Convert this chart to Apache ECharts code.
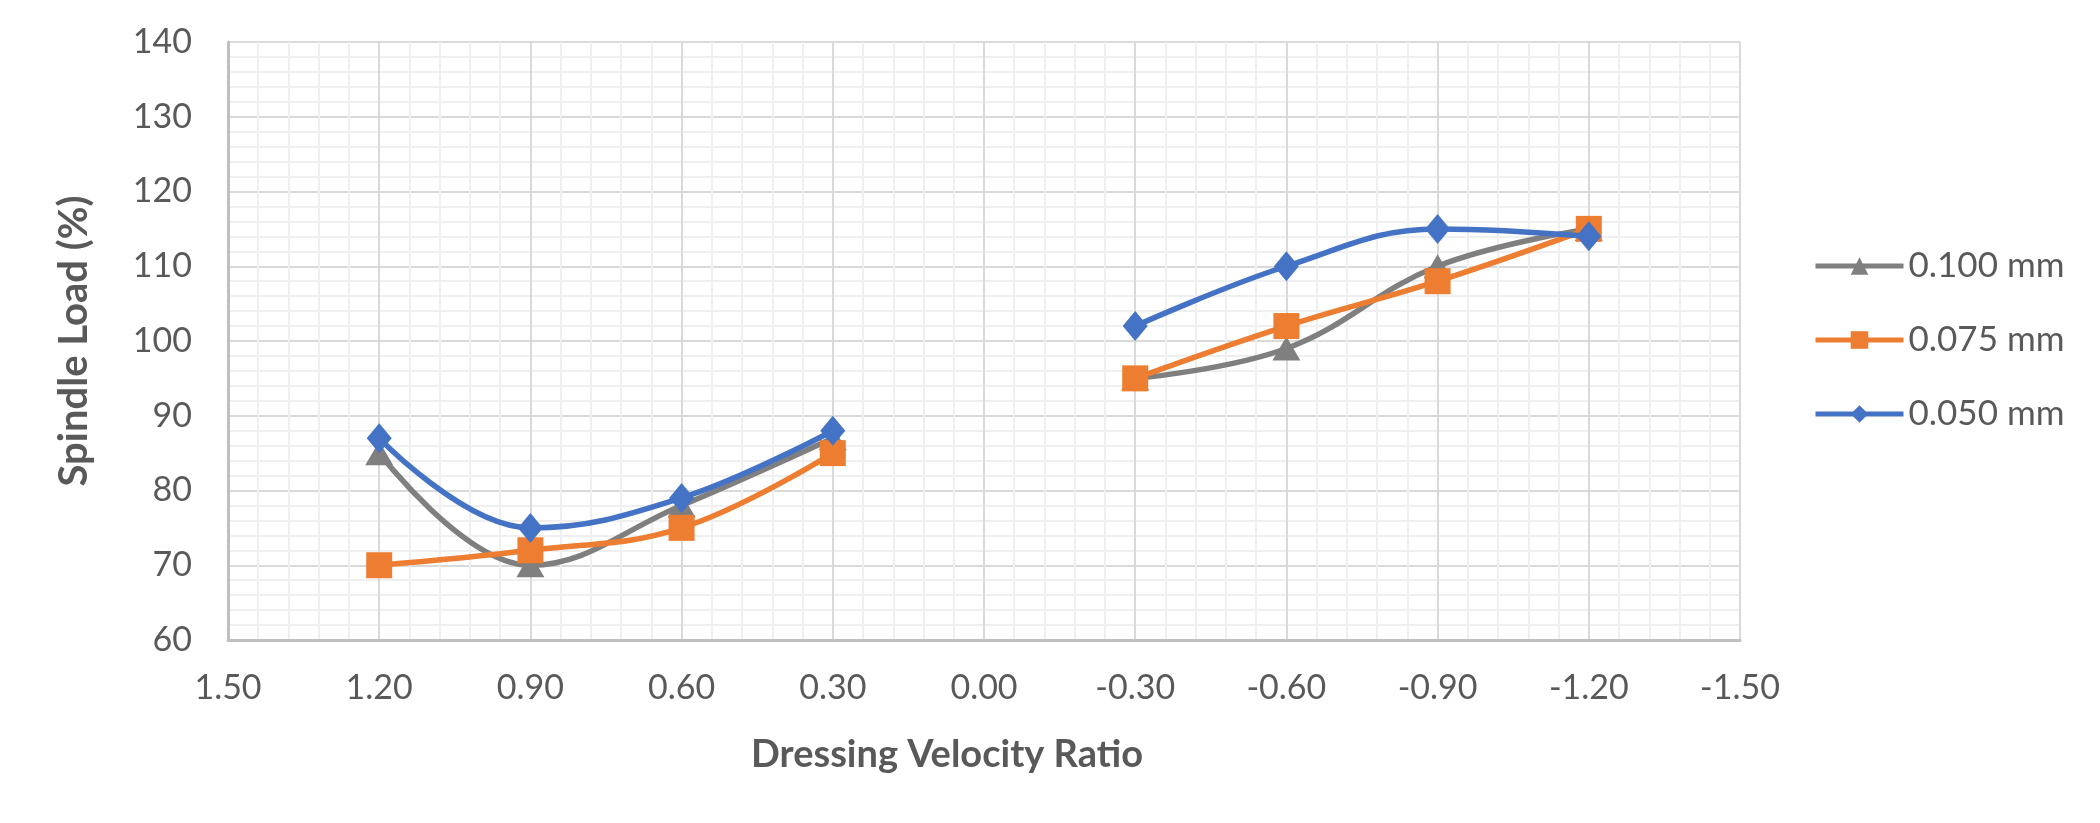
<!DOCTYPE html>
<html>
<head>
<meta charset="utf-8">
<script src="https://cdn.jsdelivr.net/npm/echarts@6/dist/echarts.min.js"></script>
<style>
html,body{margin:0;padding:0;background:#fff;}
#chart{width:2100px;height:823px;}
</style>
</head>
<body>
<div id="chart"></div>
<script>
// ---- data ----
const velocityRatio = [1.2, 0.9, 0.6, 0.3, -0.3, -0.6, -0.9, -1.2];
const load100 = [85, 70, 78, 87, 95, 99, 110, 115];
const load075 = [70, 72, 75, 85, 95, 102, 108, 115];
const load050 = [87, 75, 79, 88, 102, 110, 115, 114];
const seriesNames = ['0.100 mm', '0.075 mm', '0.050 mm'];
const xMin = -1.5, xMax = 1.5, xStep = 0.3;
const yMin = 60, yMax = 140, yStep = 10;
const xTitle = 'Dressing Velocity Ratio';
const yTitle = 'Spindle Load (%)';

// build [x,y] pairs, breaking the line where the ratio changes sign (gap at 0)
function build(values) {
  const out = [];
  for (let i = 0; i < velocityRatio.length; i++) {
    if (i > 0 && Math.sign(velocityRatio[i]) !== Math.sign(velocityRatio[i - 1])) {
      out.push([0, null]);
    }
    out.push([velocityRatio[i], values[i]]);
  }
  return out;
}

const FONT = 'Lato';
const TXT = '#595959';
const colors = ['#7F7F7F', '#ED7D31', '#4472C4'];
const symbols = ['triangle', 'rect', 'diamond'];
const symbolSizes = [[28, 24], 26, [25, 30]];
const allValues = [load100, load075, load050];

const chart = echarts.init(document.getElementById('chart'), null, {renderer: 'canvas'});
chart.setOption({
  animation: false,
  backgroundColor: '#ffffff',
  textStyle: {fontFamily: FONT},
  grid: {left: 228, right: 360, top: 42, bottom: 183, containLabel: false},
  legend: {
    orient: 'vertical',
    left: 1808,
    top: 241,
    itemWidth: 88,
    itemHeight: 22,
    itemGap: 34,
    data: seriesNames,
    lineStyle: {width: 5},
    textStyle: {fontFamily: FONT, fontSize: 35, color: TXT, lineHeight: 40}
  },
  xAxis: {
    type: 'value',
    min: xMin, max: xMax, interval: xStep,
    inverse: true,
    name: xTitle,
    nameLocation: 'middle',
    nameGap: 96,
    nameTextStyle: {fontFamily: FONT, fontSize: 38, fontWeight: 'bold', color: TXT, padding: [0, 74, 0, 0]},
    axisLine: {show: true, onZero: false, lineStyle: {color: '#BFBFBF', width: 3}},
    axisTick: {show: false},
    minorTick: {show: false, splitNumber: 5},
    axisLabel: {
      fontFamily: FONT, fontSize: 34, color: TXT, margin: 31,
      formatter: v => (Math.abs(v) < 1e-9 ? 0 : v).toFixed(2)
    },
    splitLine: {show: true, lineStyle: {color: '#D9D9D9', width: 2}},
    minorSplitLine: {show: true, lineStyle: {color: '#EFEFEF', width: 2}}
  },
  yAxis: {
    type: 'value',
    min: yMin, max: yMax, interval: yStep,
    name: yTitle,
    nameLocation: 'middle',
    nameGap: 134,
    nameTextStyle: {fontFamily: FONT, fontSize: 40, fontWeight: 'bold', color: TXT},
    axisLine: {show: true, onZero: false, lineStyle: {color: '#BFBFBF', width: 3}},
    axisTick: {show: false},
    minorTick: {show: false, splitNumber: 5},
    axisLabel: {fontFamily: FONT, fontSize: 34, color: TXT, margin: 36},
    splitLine: {show: true, lineStyle: {color: '#D9D9D9', width: 2}},
    minorSplitLine: {show: true, lineStyle: {color: '#EFEFEF', width: 2}}
  },
  series: seriesNames.map((name, k) => ({
    name: name,
    type: 'line',
    data: build(allValues[k]),
    connectNulls: false,
    smooth: 0.4,
    symbol: symbols[k],
    symbolSize: symbolSizes[k],
    z: 2 + k,
    itemStyle: {color: colors[k]},
    lineStyle: {color: colors[k], width: 5.5}
  }))
});
</script>
</body>
</html>
